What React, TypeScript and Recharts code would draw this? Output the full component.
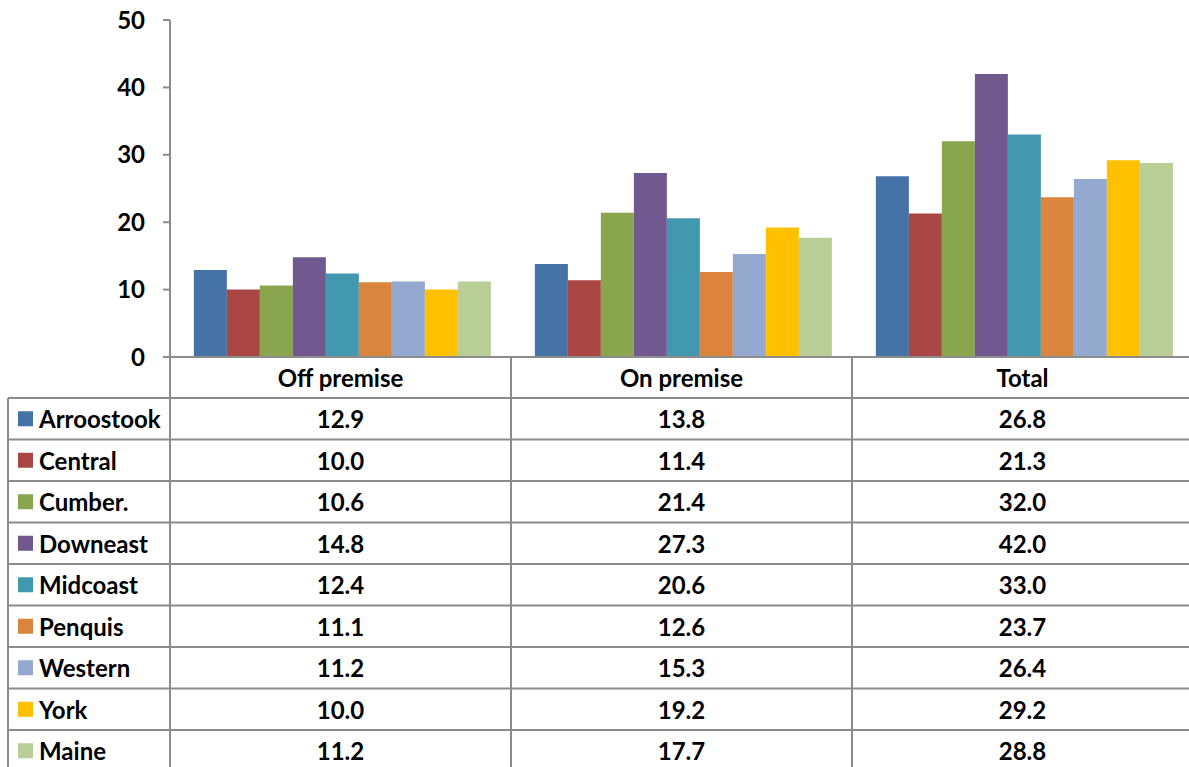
import React from 'react';
import { BarChart, Bar, XAxis, YAxis } from 'recharts';

const categories = ['Off premise', 'On premise', 'Total'];
const regions = ['Arroostook', 'Central', 'Cumber.', 'Downeast', 'Midcoast', 'Penquis', 'Western', 'York', 'Maine'];
const offPremise = [12.9, 10.0, 10.6, 14.8, 12.4, 11.1, 11.2, 10.0, 11.2];
const onPremise = [13.8, 11.4, 21.4, 27.3, 20.6, 12.6, 15.3, 19.2, 17.7];
const total = [26.8, 21.3, 32.0, 42.0, 33.0, 23.7, 26.4, 29.2, 28.8];
const colors = ['#4572A7', '#AA4643', '#89A54E', '#71588F', '#4198AF', '#DB843D', '#93A9CF', '#FFC000', '#B9CD96'];
const yTicks = [0, 10, 20, 30, 40, 50];

const seriesByCategory = [offPremise, onPremise, total];
const data = categories.map((c, i) => {
  const row: any = { name: c };
  regions.forEach((r, j) => { row[r] = seriesByCategory[i][j]; });
  return row;
});

const FONT = 'Lato, "Open Sans", sans-serif';
const FS = 24;
const W = 1200;
const H = 767;
const PLOT_LEFT = 170;
const PLOT_BOTTOM = 357;
const HEADER_H = 41;
const ROW_H = 41.5;
const TABLE_LEFT = 8;
const LINE = '#8c8c8c';

const ColumnTick = (props: any) => {
  const { x, payload, index } = props;
  const vals = seriesByCategory[index];
  return (
    <g>
      <text x={x} y={PLOT_BOTTOM + HEADER_H / 2} textAnchor="middle" dominantBaseline="central"
        fontFamily={FONT} fontWeight="bold" fontSize={FS} fill="#000">{payload.value}</text>
      {vals.map((v, k) => (
        <text key={k} x={x} y={PLOT_BOTTOM + HEADER_H + ROW_H * k + ROW_H / 2} textAnchor="middle"
          dominantBaseline="central" fontFamily={FONT} fontWeight="bold" fontSize={FS} fill="#000">
          {v.toFixed(1)}
        </text>
      ))}
    </g>
  );
};

const TableOverlay = () => {
  const catW = (W - 7 - PLOT_LEFT) / categories.length;
  const top = PLOT_BOTTOM + HEADER_H;
  const lines: any[] = [];
  for (let k = 0; k <= regions.length; k++) {
    const y = top + ROW_H * k;
    lines.push(<line key={'h' + k} x1={TABLE_LEFT} x2={W} y1={y} y2={y} stroke={LINE} strokeWidth={2} />);
  }
  lines.push(<line key="vL" x1={TABLE_LEFT} x2={TABLE_LEFT} y1={top} y2={H} stroke={LINE} strokeWidth={2} />);
  for (let c = 0; c <= categories.length; c++) {
    const x = PLOT_LEFT + catW * c;
    lines.push(<line key={'v' + c} x1={x} x2={x} y1={PLOT_BOTTOM} y2={H} stroke={LINE} strokeWidth={2} />);
  }
  return (
    <svg width={W} height={H} style={{ position: 'absolute', left: 0, top: 0 }}>
      {lines}
      {regions.map((r, k) => {
        const cy = top + ROW_H * k + ROW_H / 2;
        return (
          <g key={r}>
            <rect x={18} y={cy - 7.5} width={15} height={15} fill={colors[k]} />
            <text x={39} y={cy} dominantBaseline="central" fontFamily={FONT} fontWeight="bold" fontSize={FS} fill="#000">{r}</text>
          </g>
        );
      })}
    </svg>
  );
};

export default function App() {
  return (
    <div style={{ position: 'absolute', left: 0, top: 0, width: 1189, height: 767, overflow: 'hidden', background: '#fff' }}>
      <div style={{ position: 'absolute', left: 0, top: 0 }}>
        <BarChart width={W} height={H} data={data} margin={{ top: 20, right: 7, bottom: 0, left: 0 }}
          barCategoryGap="7%" barGap={0}>
          <XAxis dataKey="name" height={H - 20 - (PLOT_BOTTOM - 20)} axisLine={{ stroke: LINE, strokeWidth: 2 }}
            tickLine={false} interval={0} tick={<ColumnTick />} />
          <YAxis width={PLOT_LEFT} domain={[0, 50]} ticks={yTicks} axisLine={{ stroke: LINE, strokeWidth: 2 }}
            tickLine={{ stroke: LINE, strokeWidth: 2 }} tickSize={7} tickMargin={18}
            tick={{ fontFamily: FONT, fontWeight: 'bold', fontSize: FS, fill: '#000' }} />
          {regions.map((r, k) => (
            <Bar key={r} dataKey={r} fill={colors[k]} isAnimationActive={false} />
          ))}
        </BarChart>
      </div>
      <TableOverlay />
    </div>
  );
}
